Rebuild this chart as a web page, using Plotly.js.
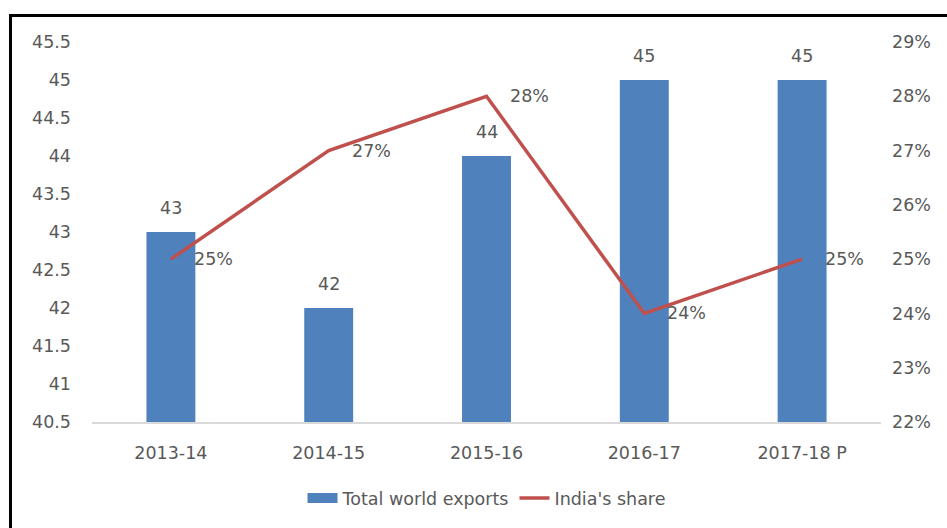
<!DOCTYPE html>
<html>
<head>
<meta charset="utf-8">
<script src="https://cdn.plot.ly/plotly-3.0.1.min.js"></script>
<style>
  body { margin: 0; background: #fff; }
  #frame { position: absolute; left: 9px; top: 14px; width: 1000px; height: 600px; border: 3px solid #000; box-sizing: border-box; }
  #chart { position: absolute; left: 0; top: 0; width: 947px; height: 528px; }
</style>
</head>
<body>
<div id="frame"></div>
<div id="chart"></div>
<script>
var years = ['2013-14', '2014-15', '2015-16', '2016-17', '2017-18 P'];
var exports_total = [43, 42, 44, 45, 45];
var india_share = [25, 27, 28, 24, 25];

var textColor = '#595959';
var fontFam = '"DejaVu Sans", sans-serif';
var fs = 17.5;

var trace1 = {
  x: years,
  y: exports_total,
  type: 'bar',
  name: 'Total world exports',
  width: 0.31,
  marker: { color: '#4F81BD' },
  showlegend: false,
  hoverinfo: 'none'
};

// legend swatch for the bars (wide rectangle like the original)
var trace1_leg = {
  x: [years[0]],
  y: [null],
  type: 'scatter',
  mode: 'lines',
  name: 'Total world exports',
  line: { color: '#4F81BD', width: 11 },
  hoverinfo: 'none'
};

var trace2 = {
  x: years,
  y: india_share,
  type: 'scatter',
  mode: 'lines',
  name: "India's share",
  yaxis: 'y2',
  line: { color: '#C0504D', width: 3.5 },
  hoverinfo: 'none'
};

var notes = [];
for (var i = 0; i < years.length; i++) {
  notes.push({
    x: years[i], y: exports_total[i], xref: 'x', yref: 'y',
    text: String(exports_total[i]), showarrow: false,
    yanchor: 'bottom', yshift: 12,
    font: { size: fs, color: textColor, family: fontFam }
  });
  notes.push({
    x: years[i], y: india_share[i], xref: 'x', yref: 'y2',
    text: india_share[i] + '%', showarrow: false,
    xanchor: 'left', xshift: 21,
    font: { size: fs, color: textColor, family: fontFam }
  });
}

var layout = {
  width: 947,
  height: 528,
  margin: { l: 92, r: 66, t: 42, b: 103 },
  paper_bgcolor: 'rgba(0,0,0,0)',
  plot_bgcolor: 'rgba(0,0,0,0)',
  font: { family: fontFam, color: textColor, size: fs },
  showlegend: true,
  legend: {
    orientation: 'h', x: 0.5, xanchor: 'center', y: -0.2, yanchor: 'middle',
    font: { size: fs, color: textColor },
    traceorder: 'normal'
  },
  xaxis: {
    showline: true, linecolor: '#D9D9D9', linewidth: 1.5,
    ticks: '', showgrid: false, zeroline: false,
    ticklabelstandoff: 14,
    tickfont: { size: fs, color: textColor }
  },
  yaxis: {
    range: [40.5, 45.5], dtick: 0.5, tick0: 40.5,
    showgrid: false, zeroline: false, showline: false, ticks: '',
    ticklabelstandoff: 20,
    tickfont: { size: fs, color: textColor }
  },
  yaxis2: {
    range: [22, 29], dtick: 1, overlaying: 'y', side: 'right',
    ticksuffix: '%', showgrid: false, zeroline: false, showline: false, ticks: '',
    ticklabelstandoff: 10,
    tickfont: { size: fs, color: textColor }
  },
  annotations: notes
};

Plotly.newPlot('chart', [trace1, trace1_leg, trace2], layout, { displayModeBar: false, staticPlot: true });
</script>
</body>
</html>
